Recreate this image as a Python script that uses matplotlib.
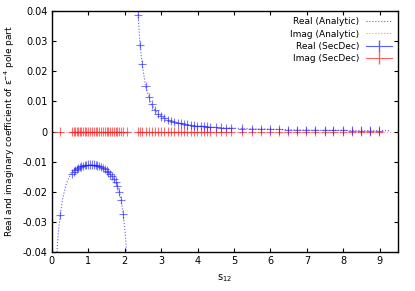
import numpy as np
import matplotlib
matplotlib.use('Agg')
import matplotlib.pyplot as plt
from matplotlib.lines import Line2D

# analytic real part (two branches)
an_left_s = [0.14, 0.18, 0.23, 0.30, 0.40, 0.50, 0.60, 0.70, 0.80, 0.90, 1.00, 1.10, 1.20,
             1.30, 1.40, 1.50, 1.60, 1.70, 1.80, 1.85, 1.90, 1.96, 2.00, 2.05]
an_left_v = [-0.040, -0.033, -0.0277, -0.0220, -0.0172, -0.0145, -0.0131, -0.0121, -0.0115,
             -0.0112, -0.0110, -0.0110, -0.0111, -0.0115, -0.0121, -0.0130, -0.0142, -0.0156,
             -0.0180, -0.0200, -0.0228, -0.0275, -0.032, -0.040]
an_right_s = [2.36, 2.42, 2.48, 2.57, 2.67, 2.74, 2.83, 2.92, 3.00, 3.20, 3.40, 3.60, 3.80,
              4.00, 4.30, 4.60, 5.00, 5.50, 6.00, 6.50, 7.00, 7.50, 8.00, 8.50, 9.00, 9.30]
an_right_v = [0.040, 0.0287, 0.0224, 0.0151, 0.0113, 0.0090, 0.0072, 0.0058, 0.0050, 0.0038,
              0.0030, 0.0025, 0.0022, 0.0019, 0.0015, 0.0013, 0.0011, 0.0009, 0.0008, 0.0006,
              0.0005, 0.0004, 0.0004, 0.0003, 0.0003, 0.0003]

# SecDec points
sd_s = [0.23, 0.55, 0.60, 0.64, 0.68, 0.72, 0.76, 0.80, 0.85, 0.90, 0.95, 1.00, 1.05, 1.10,
        1.15, 1.20, 1.25, 1.30, 1.35, 1.40, 1.45, 1.50, 1.55, 1.60, 1.65, 1.70, 1.75, 1.80,
        1.85, 1.90, 1.96, 2.05,
        2.37, 2.42, 2.48, 2.57, 2.67, 2.74, 2.83, 2.92, 3.00, 3.09, 3.18, 3.27, 3.36, 3.45,
        3.54, 3.63, 3.72, 3.81, 3.90, 3.99, 4.08, 4.17, 4.26, 4.35, 4.51, 4.65, 4.79, 4.93,
        5.21, 5.48, 5.75, 5.98, 6.23, 6.47, 6.74, 6.98, 7.23, 7.49, 7.73, 7.99, 8.24, 8.48,
        8.74, 8.99]
sd_real = [-0.0277, -0.0140, -0.0133, -0.0128, -0.0124, -0.0121, -0.0118, -0.0116, -0.0114,
           -0.0112, -0.0111, -0.0110, -0.0110, -0.0110, -0.0110, -0.0111, -0.0113, -0.0115,
           -0.0118, -0.0121, -0.0125, -0.0130, -0.0136, -0.0142, -0.0148, -0.0156, -0.0166,
           -0.0180, -0.0200, -0.0228, -0.0275, -0.045,
           0.0387, 0.0287, 0.0224, 0.0151, 0.0113, 0.0090, 0.0072, 0.0058, 0.0050, 0.0044,
           0.0039, 0.0035, 0.0032, 0.0029, 0.0027, 0.0025, 0.0023, 0.0022, 0.0020, 0.0019,
           0.0018, 0.0017, 0.0016, 0.0015, 0.0014, 0.0013, 0.0012, 0.0011, 0.0010, 0.0009,
           0.0008, 0.0007, 0.0007, 0.0006, 0.0006, 0.0005, 0.0005, 0.0004, 0.0004, 0.0004,
           0.0003, 0.0003, 0.0003, 0.0003]
sd_imag = [0.0] * len(sd_s)

xticks = [0, 1, 2, 3, 4, 5, 6, 7, 8, 9]
yticks = [-0.04, -0.03, -0.02, -0.01, 0, 0.01, 0.02, 0.03, 0.04]
ytick_labels = ['-0.04', '-0.03', '-0.02', '-0.01', '0', '0.01', '0.02', '0.03', '0.04']

blue = '#2020ff'
red = '#ff2020'

fig = plt.figure(figsize=(4.15, 2.91), dpi=100)
ax = fig.add_axes([0.125, 0.134, 0.834, 0.828])

ax.plot(an_left_s, an_left_v, ls=':', color='#6060ff', lw=0.8)
ax.plot(an_right_s, an_right_v, ls=':', color='#6060ff', lw=0.8)
ax.plot([0.05, 9.35], [0, 0], ls=':', color='#ff9090', lw=0.8)

ax.errorbar(sd_s, sd_imag, xerr=0.11, yerr=0.0014, fmt='none', ecolor=red,
            elinewidth=0.8, alpha=0.65, capsize=0)
ax.errorbar(sd_s, sd_real, xerr=0.11, yerr=0.0014, fmt='none', ecolor=blue,
            elinewidth=0.8, alpha=0.6, capsize=0)

ax.set_xlim(0, 9.5)
ax.set_ylim(-0.04, 0.04)
ax.set_xticks(xticks)
ax.set_yticks(yticks)
ax.set_yticklabels(ytick_labels)
ax.tick_params(direction='in', top=True, right=True, labelsize=7, length=3, pad=3)
for sp in ax.spines.values():
    sp.set_linewidth(1.0)

ax.set_xlabel(r'$\mathregular{s_{12}}$', fontsize=7)
ax.set_ylabel(r'Real and imaginary coefficient of $\mathregular{\epsilon^{-4}}$ pole part', fontsize=6.5)

handles = [Line2D([0], [0], ls=':', color='#6060ff', lw=0.8),
           Line2D([0], [0], ls=':', color='#ff9090', lw=0.8),
           Line2D([0], [0], color='#6060ff', lw=0.8, marker='|', markersize=8),
           Line2D([0], [0], color='#ff6060', lw=0.8, marker='|', markersize=8)]
labels = ['Real (Analytic)', 'Imag (Analytic)', 'Real (SecDec)', 'Imag (SecDec)']
ax.legend(handles, labels, loc='upper right', frameon=False, fontsize=6.5,
          markerfirst=False, handlelength=2.8, labelspacing=0.35, borderaxespad=0.3)

plt.savefig('out.png', dpi=100)
